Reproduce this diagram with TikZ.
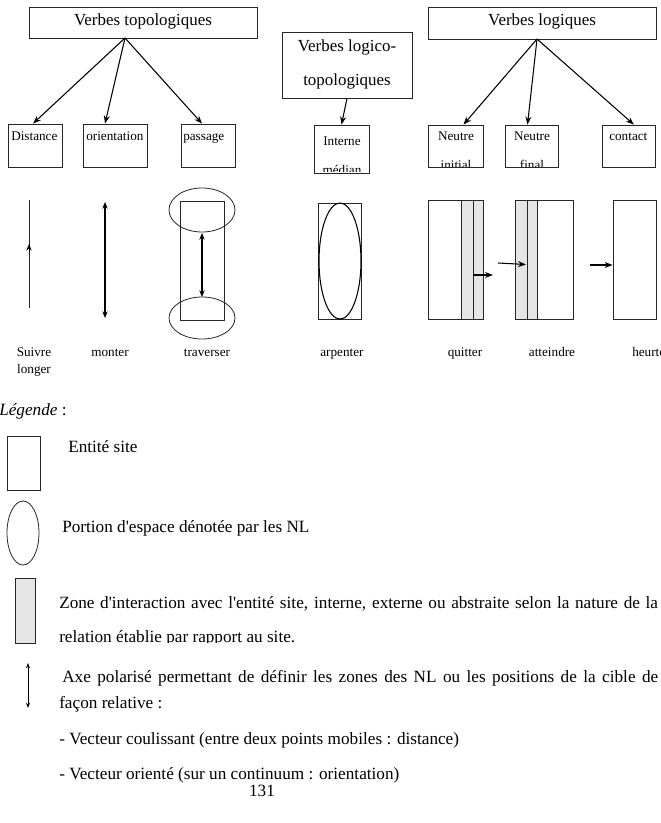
\documentclass[tikz,border=0pt]{standalone}
\usepackage{fontspec}
\setmainfont{Liberation Serif}
\usetikzlibrary{arrows.meta,fit}
\tikzset{
  box/.style={draw=black!85, line width=0.6pt, inner sep=0pt},
  big/.style={font=\fontsize{12.7}{15}\selectfont, inner sep=0pt},
  small/.style={font=\fontsize{9.9}{12}\selectfont, inner sep=0pt},
  leg/.style={font=\fontsize{12.9}{15}\selectfont, inner sep=0pt, anchor=base west},
  arr/.style={-{Stealth[length=6pt,width=4.5pt]}, line width=0.8pt},
  darr/.style={{Stealth[length=5pt,width=4pt]}-{Stealth[length=5pt,width=4pt]}, line width=0.8pt},
  thin/.style={line width=0.6pt, draw=black!85},
  zone/.style={fill=black!10},
}
\newcommand{\apos}{\textquotesingle}
\begin{document}
\begin{tikzpicture}[x=0.75pt,y=-0.75pt]
\useasboundingbox (0,0) rectangle (660,823);
% ---------- top boxes ----------
\node[box, fit={(29,7) (257,38)}] (vt) {};
\node[big] (vtt) at (143,21) {Verbes topologiques};
\node[box, fit={(282,32) (412,98)}] (vlt) {};
\node[big] (vlt1) at (347,47) {Verbes logico-};
\node[big] (vlt2) at (347,81) {topologiques};
\node[box, fit={(428,7) (656,39)}] (vl) {};
\node[big] (vlt3) at (542,21) {Verbes logiques};
% ---------- second level ----------
\node[box, fit={(8,124) (62,167)}] (dist) {};
\node[small, anchor=base west] (distt) at (11,141) {Distance};
\node[box, fit={(83,124) (147,167)}] (ori) {};
\node[small, anchor=base west] (orit) at (86,141) {orientation};
\node[box, fit={(181,124) (235,167)}] (pas) {};
\node[small, anchor=base west] (past) at (183,141) {passage};
\node[box, fit={(314,125) (369,173)}] (int) {};
\node[small, anchor=base] (intt) at (342,146) {Interne};
\node[box, fit={(428,125) (483,167)}] (ni) {};
\node[small, anchor=base] (nit) at (456,141) {Neutre};
\node[box, fit={(505,125) (558,167)}] (nf) {};
\node[small, anchor=base] (nft) at (532,141) {Neutre};
\node[box, fit={(602,125) (655,167)}] (con) {};
\node[small, anchor=base west] (cont) at (609,141) {contact};
\begin{scope}
\clip (314,125) rectangle (369,172);
\node[small, anchor=base] (intt2) at (342,175) {médian};
\end{scope}
\begin{scope}
\clip (428,125) rectangle (483,166.5);
\node[small, anchor=base] (nit2) at (456,170) {initial};
\end{scope}
\begin{scope}
\clip (505,125) rectangle (558,166.5);
\node[small, anchor=base] (nft2) at (532,170) {final};
\end{scope}
% ---------- arrows ----------
\coordinate (vto) at (125,38);
\coordinate (vlo) at (537,39);
\draw[arr] (vto) -- ([xshift=-1.5pt]dist.north);
\draw[arr] (vto) -- ([xshift=-7.5pt]ori.north);
\draw[arr] (vto) -- ([xshift=-4.5pt]pas.north);
\draw[arr] (vlt.south) -- (int.north);
\draw[arr] (vlo) -- ([xshift=6pt]ni.north);
\draw[arr] (vlo) -- ([xshift=-3pt]nf.north);
\draw[arr] (vlo) -- ([xshift=4pt]con.north);
% ---------- pictograms ----------
% Suivre / longer
\coordinate (s1) at (29,200);
\coordinate (s2) at (29,308);
\draw[thin] (s2) -- (s1);
\coordinate (s3) at (29,252);
\coordinate (s4) at (29,244);
\draw[-{Stealth[length=5pt,width=4pt]}, line width=0.7pt] (s3) -- (s4);
% monter
\coordinate (m1) at (105,202);
\coordinate (m2) at (105,318);
\draw[darr] (m1) -- (m2);
% traverser
\node[box, fit={(180,201) (224,320)}] (trr) {};
\draw[thin] (202,210) ellipse [x radius=33, y radius=22];
\draw[thin] (202,318) ellipse [x radius=33, y radius=21];
\coordinate (t1) at (202,233);
\coordinate (t2) at (202,297);
\draw[darr] (t1) -- (t2);
% arpenter
\node[box, fit={(318,203) (361,319)}] (arr) {};
\draw[line width=0.8pt] (340,261) ellipse [x radius=21, y radius=58];
% quitter
\fill[zone] (461,200) rectangle (483,319);
\node[box, fit={(428,200) (483,319)}] (qr) {};
\node[box, fit={(461,200) (473,319)}] (qz) {};
\coordinate (q1) at (473,275);
\coordinate (q2) at (493,275);
\draw[arr] (q1) -- (q2);
% atteindre
\fill[zone] (515,200) rectangle (537,319);
\node[box, fit={(515,200) (573,319)}] (ar) {};
\node[box, fit={(527,200) (537,319)}] (az) {};
\coordinate (a1) at (498,263);
\coordinate (a2) at (526,264.5);
\draw[arr] (a1) -- (a2);
% heurter
\node[box, fit={(613,200) (656,319)}] (hr) {};
\coordinate (h1) at (590,265);
\draw[arr] (h1) -- (hr.west |- h1);
% labels
\node[small, anchor=base] (l1) at (34,356) {Suivre};
\node[small, anchor=base] (l1b) at (34,373) {longer};
\node[small, anchor=base] (l2) at (110,356) {monter};
\node[small, anchor=base] (l3) at (207,356) {traverser};
\node[small, anchor=base] (l4) at (342,356) {arpenter};
\node[small, anchor=base] (l5) at (465,356) {quitter};
\node[small, anchor=base] (l6) at (552,356) {atteindre};
\node[small, anchor=base west] (l7) at (632,356) {heurter};
% ---------- legend ----------
\node[leg] (lg) at (-1,415) {\itshape Légende\upshape\ :};
\node[box, fit={(7,436) (40,490)}] (lr) {};
\node[leg] (lrt) at (68,452) {Entité site};
\draw[thin] (23,533) ellipse [x radius=16, y radius=32];
\node[leg] (let) at (62,532) {Portion d\apos espace dénotée par les NL};
\node[box, zone, fit={(15,578) (35,643)}] (lz) {};
\node[leg] (lzt) at (59,608) {\hbox to 449pt{Zone d\apos interaction avec l\apos entité site, interne, externe ou abstraite selon la nature de la}};
\begin{scope}
\clip (50,620) rectangle (660,642);
\node[leg] (lzt2) at (59,642) {relation établie par rapport au site.};
\end{scope}
\coordinate (la1) at (28,663);
\coordinate (la2) at (28,708);
\draw[{Stealth[length=4pt,width=3pt]}-{Stealth[length=4pt,width=3pt]}, line width=0.6pt] (la1) -- (la2);
\node[leg] (lat) at (62,682) {\hbox to 447pt{Axe polarisé permettant de définir les zones des NL ou les positions de la cible de}};
\node[leg] (lat2) at (59,708) {façon relative :};
\node[leg] (lv1) at (59,744) {- Vecteur coulissant (entre deux points mobiles : distance)};
\node[leg] (lv2) at (59,779) {- Vecteur orienté (sur un continuum : orientation)};
\node[leg, anchor=base] (pg) at (262,796) {131};
\end{tikzpicture}
\end{document}
